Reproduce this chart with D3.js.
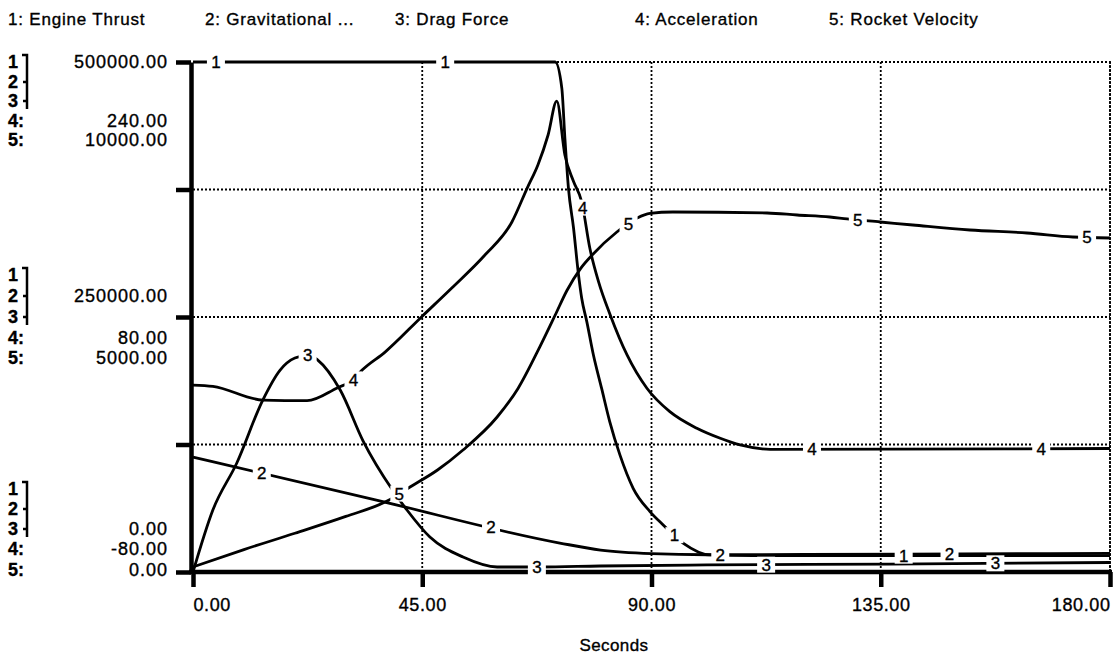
<!DOCTYPE html>
<html>
<head>
<meta charset="utf-8">
<script src="https://cdn.jsdelivr.net/npm/d3@7"></script>
<style>
  body { margin: 0; background: #fff; }
  text { font-family: "Liberation Sans", Arial, Helvetica, sans-serif; fill: #000; stroke: #000; stroke-width: 0.35px; }
</style>
</head>
<body>
<div id="chart"></div>
<script>
// Series names (legend across the top)
const seriesNames = ["Engine Thrust", "Gravitational ...", "Drag Force", "Acceleration", "Rocket Velocity"];

// 1: Engine Thrust
const thrustTime = [0, 71.1, 72.4, 73.0, 73.7, 74.7, 75.6, 76.3, 77.3, 78.6, 80.2, 81.8, 83.8, 86.4, 89.7, 92.3, 96.2, 101.5, 110, 180];
const thrustValue = [500000, 500000, 474200, 425200, 376200, 337000, 294500, 268400, 245500, 212800, 180200, 147500, 114800, 82100, 59200, 46100, 28400, 16700, 16000, 16000];

// 2: Gravitational force
const gravTime = [0, 36, 72, 80, 90, 100.9, 140, 180];
const gravValue = [112700, 70500, 28400, 21500, 18000, 16900, 17600, 18200];

// 3: Drag Force
const dragTime = [0, 3.9, 8.6, 13.7, 17.1, 20.0, 22.8, 24.5, 28.9, 33.4, 39.3, 42.0, 46.5, 53.0, 59.7, 68.1, 79.9, 100.9, 136.8, 180];
const dragValue = [0, 60800, 106900, 168600, 198000, 209800, 212700, 207800, 178400, 128400, 79400, 60800, 34300, 14700, 4900, 4900, 5900, 6900, 7800, 9300];

// 4: Acceleration
const accelTime = [0, 3.9, 13.7, 22.4, 28.3, 31.4, 33.2, 37.7, 44.9, 50.8, 57.3, 62.6, 65.6, 67.7, 69.7, 71.4, 73.0, 74.7, 76.3, 77.9, 79.6, 81.9, 85.2, 89.1, 93.6, 98.9, 103.5, 107.4, 113.3, 180];
const accelValue = [37.3, 36.5, 27.9, 27.5, 35.5, 40.5, 46.7, 58.0, 80.2, 98.2, 118.9, 139.6, 160.9, 175.4, 194.2, 215.4, 181.6, 165.0, 152.3, 123.1, 102.2, 81.3, 56.2, 35.3, 20.6, 10.2, 3.9, -0.3, -3.0, -2.5];

// 5: Rocket Velocity
const velTime = [0, 10, 20, 30, 38.1, 42.6, 48, 53.0, 59.7, 63.8, 68.1, 71.1, 73.4, 76.0, 78.5, 83.2, 87.2, 89.7, 94.2, 112.7, 118.6, 125.0, 128.4, 134.9, 141.3, 152.5, 163.7, 172.7, 180];
const velValue = [100, 440, 760, 1090, 1390, 1667, 2000, 2392, 3039, 3600, 4420, 5039, 5520, 5940, 6230, 6667, 6941, 7030, 7059, 7039, 7000, 6961, 6922, 6863, 6804, 6706, 6647, 6569, 6549];

// Axis tick values / labels
const xTicks = [0, 45, 90, 135, 180];
const forceTicks = [0, 125000, 250000, 375000, 500000];
const leftGroups = [
  { rows: [62, 82, 101, 121, 140], labels: ["500000.00", null, null, "240.00", "10000.00"] },
  { rows: [275, 296, 317, 338, 358], labels: [null, "250000.00", null, "80.00", "5000.00"] },
  { rows: [489, 509, 529, 549, 570], labels: [null, null, "0.00", "-80.00", "0.00"] }
];
const legendX = [8, 205, 395, 635, 829];
const labelTimes = [4.5, 49.5, 94.5, 139.5];

const width = 1119, height = 655;
const svg = d3.select("#chart").append("svg")
  .attr("width", width).attr("height", height);

// Scales
const x = d3.scaleLinear().domain([0, 180]).range([193, 1110]);
const yForce = d3.scaleLinear().domain([0, 500000]).range([572, 62]);
const yAccel = d3.scaleLinear().domain([-80, 240]).range([572, 62]);
const yVel = d3.scaleLinear().domain([0, 10000]).range([572, 62]);

const series = [
  { t: thrustTime, v: thrustValue, y: yForce },
  { t: gravTime, v: gravValue, y: yForce },
  { t: dragTime, v: dragValue, y: yForce },
  { t: accelTime, v: accelValue, y: yAccel },
  { t: velTime, v: velValue, y: yVel }
];

// Legend
svg.append("g").selectAll("text")
  .data(seriesNames)
  .enter().append("text")
  .attr("x", (d, i) => legendX[i])
  .attr("y", 25)
  .style("font-size", "17px")
  .style("letter-spacing", "0.8px")
  .text((d, i) => (i + 1) + ": " + d);

// Grid (dotted)
const grid = svg.append("g")
  .attr("stroke", "#000")
  .attr("stroke-width", 1.8)
  .attr("stroke-dasharray", "2,2");
grid.selectAll("line.h")
  .data(forceTicks.slice(1))
  .enter().append("line")
  .attr("x1", x(0)).attr("x2", x(180))
  .attr("y1", d => yForce(d)).attr("y2", d => yForce(d));
grid.selectAll("line.v")
  .data(xTicks.slice(1))
  .enter().append("line")
  .attr("x1", d => x(d)).attr("x2", d => x(d))
  .attr("y1", yForce(500000)).attr("y2", yForce(0));

// Axes
const leftAxis = svg.append("g")
  .attr("transform", `translate(${x(0) - 2},0)`)
  .call(d3.axisLeft(yForce).tickValues(forceTicks).tickSize(15).tickSizeOuter(0).tickFormat(""));
const bottomAxis = svg.append("g")
  .attr("transform", `translate(0,${yForce(0)})`)
  .call(d3.axisBottom(x).tickValues(xTicks).tickSize(15).tickSizeOuter(0).tickPadding(11).tickFormat(d3.format(".2f")));
[leftAxis, bottomAxis].forEach(a => {
  a.selectAll("path, line").attr("stroke", "#000").attr("stroke-width", 4.5);
});
bottomAxis.select(".domain").attr("d", `M${x(0) - 4},0H${x(180) + 2}`);
bottomAxis.selectAll("text")
  .style("font-size", "18px")
  .style("letter-spacing", "0.6px")
  .attr("fill", "#000")
  .attr("text-anchor", (d, i) => i === 0 ? "start" : (i === xTicks.length - 1 ? "end" : "middle"));

svg.append("text")
  .attr("x", 614).attr("y", 651)
  .attr("text-anchor", "middle")
  .style("font-size", "17px")
  .style("letter-spacing", "0.4px")
  .text("Seconds");

// Left scale labels
leftGroups.forEach(g => {
  const lg = svg.append("g");
  lg.selectAll("text.num")
    .data(g.rows)
    .enter().append("text")
    .attr("x", 8)
    .attr("y", d => d)
    .attr("dy", "0.36em")
    .style("font-size", "18px")
    .style("font-weight", "bold")
    .text((d, i) => i < 3 ? (i + 1) : (i + 1) + ":");
  lg.append("path")
    .attr("d", `M22,${g.rows[0] - 7}H27V${g.rows[2] + 8}M23,${g.rows[1]}H27M23,${g.rows[2]}H27`)
    .attr("fill", "none").attr("stroke", "#000").attr("stroke-width", 2.5);
  lg.selectAll("text.val")
    .data(g.labels.map((l, i) => ({ l, y: g.rows[i] })).filter(d => d.l))
    .enter().append("text")
    .attr("x", 168)
    .attr("y", d => d.y)
    .attr("dy", "0.36em")
    .attr("text-anchor", "end")
    .style("font-size", "18px")
    .style("letter-spacing", "1px")
    .text(d => d.l);
});

// Plot frame: dotted top and right edges
svg.append("path")
  .attr("d", `M${x(0)},${yForce(500000)}H${x(180)}V${yForce(0)}`)
  .attr("fill", "none").attr("stroke", "#000")
  .attr("stroke-width", 1.8).attr("stroke-dasharray", "2,2");

// Curves
const valueAt = (s, t) => {
  const i = d3.bisectRight(s.t, t);
  if (i <= 0) return s.v[0];
  if (i >= s.t.length) return s.v[s.v.length - 1];
  const f = (t - s.t[i - 1]) / (s.t[i] - s.t[i - 1]);
  return s.v[i - 1] + f * (s.v[i] - s.v[i - 1]);
};

series.forEach(s => {
  const pts = s.t.map((t, i) => [t, s.v[i]]);
  svg.append("path")
    .datum(pts)
    .attr("fill", "none")
    .attr("stroke", "#000")
    .attr("stroke-width", 2.8)
    .attr("stroke-linejoin", "round")
    .attr("d", d3.line().curve(d3.curveMonotoneX).x(d => x(d[0])).y(d => s.y(d[1])));
});

// Curve number labels
series.forEach((s, i) => {
  labelTimes.forEach(lt => {
    const t = lt + 9 * i;
    const px = x(t), py = s.y(valueAt(s, t));
    svg.append("rect")
      .attr("x", px - 9).attr("y", py - 8)
      .attr("width", 18).attr("height", 16)
      .attr("fill", "#fff");
    svg.append("text")
      .attr("x", px).attr("y", py)
      .attr("dy", "0.36em")
      .attr("text-anchor", "middle")
      .style("font-size", "17px")
      .text(i + 1);
  });
});
</script>
</body>
</html>
